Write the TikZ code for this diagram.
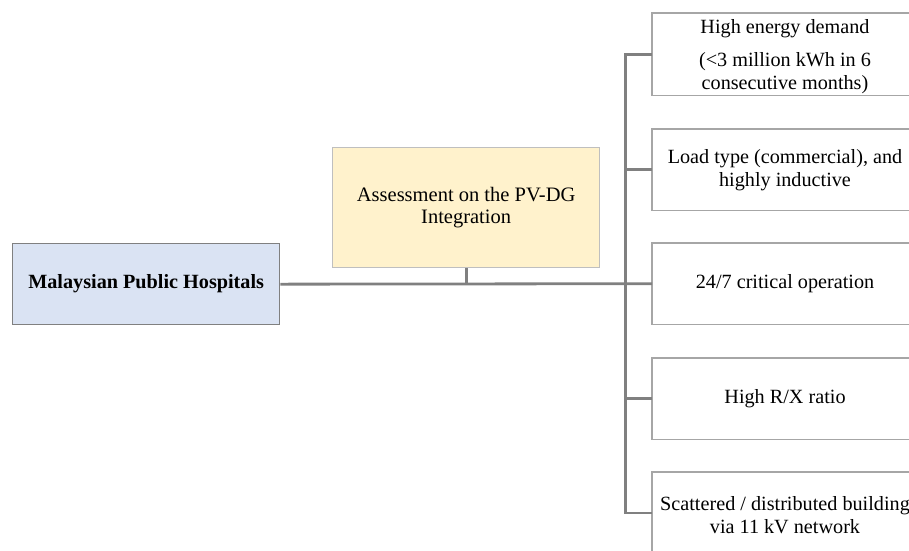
\documentclass[tikz,border=0pt]{standalone}
\usepackage{fontspec}
\setmainfont{Liberation Serif}
\begin{document}
\begin{tikzpicture}[x=1pt,y=-1pt,
  conn/.style={draw=black!50, line width=2.8pt},
  rframe/.style={rectangle, anchor=north west, minimum width=290pt, inner sep=0pt},
  rline/.style={draw=black!35, line width=1.3pt},
  rtext/.style={align=center, inner sep=0pt, font=\fontsize{20.2}{23}\selectfont},
  ]
\fill[white] (0,0) rectangle (909,550);
\useasboundingbox (0,0) rectangle (909,550);
\node[draw=black!50, line width=1.3pt, fill={rgb,255:red,218;green,227;blue,243},
  anchor=north west, minimum width=267pt, minimum height=81pt, inner sep=0pt,
  font=\fontsize{20.2}{23}\selectfont\bfseries] (mph) at (12,243) {Malaysian Public Hospitals};
\node[draw=black!25, line width=1.3pt, fill={rgb,255:red,255;green,242;blue,204},
  anchor=north west, minimum width=267pt, minimum height=120pt, inner sep=0pt, align=center,
  font=\fontsize{20.5}{22}\selectfont] (asm) at (332,147) {Assessment on the PV-DG\\Integration};
\node[rframe, minimum height=82pt] (b1) at (652,13) {};
\node[rframe, minimum height=81pt] (b2) at (652,129) {};
\node[rframe, minimum height=81pt] (b3) at (652,243) {};
\node[rframe, minimum height=81pt] (b4) at (652,358) {};
\node[rframe, minimum height=90pt] (b5) at (652,472) {};
\foreach \b in {b1,b2,b3,b4,b5}
  \draw[rline] (\b.north east) -- (\b.north west) -- (\b.south west) -- (\b.south east);
\node[rtext] (t1) at (785,57) {High energy demand\\[10pt](<3 million kWh in 6\\consecutive months)};
\node[rtext] (t2) at (785,170) {Load type (commercial), and\\highly inductive};
\node[rtext] (t3) at (785,284) {24/7 critical operation};
\node[rtext] (t4) at (785,399) {High R/X ratio};
\node[rtext] (t5) at (785,515) {Scattered / distributed building\\via 11 kV network};
\coordinate (t) at (625.5,0);
\coordinate (b5c) at (652,513);
\draw[conn] (mph.east) -- (b3.west);
\draw[conn] (asm.south) -- (asm.south |- mph.east);
\draw[conn] (b1.west) -| (t |- b5c) -- (b5c);
\draw[conn] (b2.west) -- (b2.west -| t);
\draw[conn] (b4.west) -- (b4.west -| t);
\end{tikzpicture}
\end{document}
